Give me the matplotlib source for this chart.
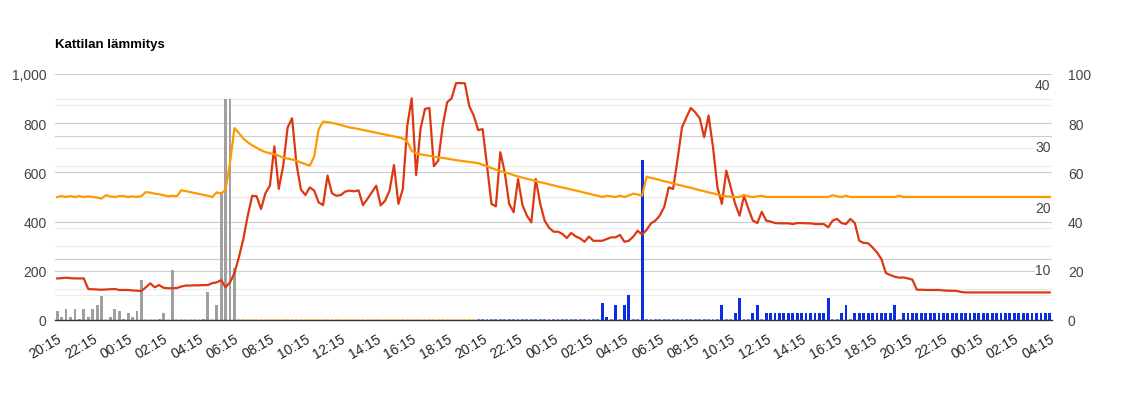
import numpy as np
import matplotlib
matplotlib.use('Agg')
import matplotlib.pyplot as plt
import matplotlib.transforms as mtransforms

plt.rcParams['font.family'] = ['Liberation Sans', 'DejaVu Sans']

TITLE = 'Kattilan lämmitys'

# x axis: one category every 15 minutes, a label every 2 hours
TICK_LABELS = ['20:15', '22:15', '00:15', '02:15', '04:15', '06:15', '08:15',
               '10:15', '12:15', '14:15', '16:15', '18:15',
               '20:15', '22:15', '00:15', '02:15', '04:15', '06:15', '08:15',
               '10:15', '12:15', '14:15', '16:15', '18:15',
               '20:15', '22:15', '00:15', '02:15', '04:15']
TICK_EVERY = 8

# bars (left axis 0..1000), three series one after another
GRAY_BARS = [35, 12, 45, 12, 45, 4, 45, 12, 45, 60, 96, 0, 12, 45, 35,
             3, 27, 12, 35, 163, 0, 0, 0, 3, 27, 0, 203, 0, 0, 0,
             0, 0, 0, 5, 112, 0, 60, 520, 900, 900, 213, 0, 0]
ORANGE_BARS = [0] * 52
BLUE_BARS = ([0] * 28
             + [68, 11, 0, 60, 0, 60, 100, 0, 0, 650]
             + [0] * 17
             + [60, 0, 0, 27, 88, 0, 0, 27, 60, 0]
             + [27] * 14
             + [88, 0, 0, 27, 60, 0]
             + [27] * 9
             + [60, 0]
             + [27] * 34)

# red line (right axis 0..100)
BOILER = [16.9, 17.0, 17.2, 17.0, 16.9, 16.9, 16.9, 12.6, 12.5, 12.4,
          12.3, 12.4, 12.5, 12.6, 12.2, 12.2, 12.2, 12.0, 11.9, 11.8,
          13.3, 14.9, 13.3, 14.2, 13.1, 12.9, 12.9, 13.0, 13.6, 14.0,
          14.0, 14.1, 14.1, 14.2, 14.2, 15.0, 15.3, 16.2, 13.3, 15.3,
          19.1, 25.5, 32.9, 42.4, 50.5, 50.3, 45.1, 51.6, 54.6, 70.6,
          53.3, 62.7, 78.3, 82.0, 63.4, 53.0, 50.8, 53.9, 52.6, 47.8,
          46.7, 58.7, 51.5, 50.5, 50.8, 52.2, 52.6, 52.3, 52.7, 46.7,
          49.2, 51.9, 54.6, 46.6, 48.5, 52.6, 63.0, 47.2, 53.3, 79.0,
          90.1, 58.9, 77.9, 85.8, 86.2, 62.5, 64.8, 79.0, 88.5, 90.1,
          96.3, 96.3, 96.2, 86.9, 83.1, 77.2, 77.6, 62.7, 47.2, 46.2,
          68.2, 60.0, 47.2, 43.8, 57.3, 46.7, 42.4, 39.7, 57.3, 47.2,
          40.4, 37.5, 35.9, 35.9, 35.0, 33.3, 35.4, 34.0, 33.2, 31.8,
          33.9, 32.2, 32.2, 32.2, 32.9, 33.6, 33.6, 34.6, 31.8, 32.2,
          33.9, 36.3, 34.7, 36.6, 39.3, 40.4, 42.5, 46.0, 53.9, 53.3,
          65.4, 78.3, 82.4, 86.2, 84.4, 82.0, 74.3, 83.1, 70.2, 53.9,
          47.2, 60.7, 53.9, 47.2, 42.4, 50.5, 45.1, 40.4, 39.4, 44.0,
          40.4, 40.0, 39.4, 39.3, 39.3, 39.3, 39.0, 39.4, 39.4, 39.3,
          39.3, 39.0, 39.0, 39.0, 37.7, 40.4, 41.1, 39.4, 39.0, 41.1,
          39.4, 32.2, 31.3, 31.2, 29.5, 27.5, 24.8, 19.1, 18.3, 17.6,
          17.2, 17.3, 16.9, 16.4, 12.3, 12.3, 12.2, 12.2, 12.2, 12.2,
          12.0, 11.9, 11.9, 11.8, 11.4] + [11.2] * 20

# orange line (inner right axis 0..40)
ROOM = [20.0, 20.15, 20.0, 20.15, 20.0, 20.15, 20.0, 20.1, 20.0, 19.9,
        19.75, 20.3, 20.1, 20.0, 20.15, 20.15, 20.0, 20.1, 20.0, 20.15,
        20.8, 20.7, 20.55, 20.45, 20.3, 20.1, 20.2, 20.1, 21.1, 20.95,
        20.8, 20.65, 20.5, 20.35, 20.2, 20.0, 20.75, 20.55, 21.2, 25.6,
        31.2, 30.4, 29.5, 28.9, 28.4, 28.0, 27.6, 27.3, 27.1, 26.95,
        26.7, 26.4, 26.25, 26.1, 25.9, 25.6, 25.35, 25.1, 26.6, 31.0,
        32.25, 32.2, 32.05, 31.9, 31.7, 31.5, 31.3, 31.2, 31.05, 30.9,
        30.75, 30.6, 30.45, 30.3, 30.15, 30.0, 29.85, 29.7, 29.5, 29.0,
        27.5, 27.1, 26.95, 26.8, 26.7, 26.55, 26.45, 26.35, 26.25, 26.1,
        26.0, 25.9, 25.8, 25.7, 25.6, 25.5, 25.25, 25.0, 24.7, 24.45,
        24.2, 24.0, 23.8, 23.55, 23.35, 23.15, 22.95, 22.8, 22.6, 22.4,
        22.25, 22.05, 21.9, 21.7, 21.55, 21.4, 21.2, 21.05, 20.9, 20.7,
        20.55, 20.35, 20.2, 20.0, 20.2, 20.1, 20.0, 20.2, 20.0, 20.25,
        20.55, 20.4, 20.2, 23.3, 23.1, 22.95, 22.75, 22.55, 22.4, 22.2,
        22.0, 21.85, 21.65, 21.5, 21.3, 21.1, 20.95, 20.75, 20.6, 20.4,
        20.2, 20.1, 20.05, 20.0, 20.0, 20.35, 20.1, 20.0, 20.1, 20.2] \
    + [20.0] * 15 + [20.3, 20.1, 20.0, 20.2, 20.0] \
    + [20.0] * 10 + [20.2] + [20.0] * 9 + [20.0] * 25

LEFT_TICKS = [0, 200, 400, 600, 800, 1000]
RIGHT_TICKS = [0, 20, 40, 60, 80, 100]
INNER_TICKS = [10, 20, 30, 40]

n = len(BOILER)
assert len(ROOM) == n
assert len(GRAY_BARS) + len(ORANGE_BARS) + len(BLUE_BARS) == n

fig = plt.figure(figsize=(11.31, 4.10), dpi=100)
ax = fig.add_axes([55 / 1131, 1 - 321 / 410, 997 / 1131, 246 / 410])
ax2 = ax.twinx()
ax3 = ax.twinx()

x = np.arange(n)
ax.set_xlim(-0.5, n - 0.5)
ax.set_ylim(0, 1000)
ax2.set_ylim(0, 100)
ax3.set_ylim(0, 40)

# gridlines: left axis and inner axis
ax.set_yticks(LEFT_TICKS)
ax.set_yticks(np.arange(100, 1000, 200), minor=True)
ax.grid(which='major', axis='y', color='#cccccc', lw=0.8, zorder=0)
ax.grid(which='minor', axis='y', color='#ebebeb', lw=0.8, zorder=0)
ax.set_axisbelow(True)
inner_tf = mtransforms.blended_transform_factory(ax.transAxes, ax3.transData)
for v in np.arange(5, 40, 5):
    ax.plot([0, 1], [v, v], transform=inner_tf,
            color='#cccccc' if v % 10 == 0 else '#ebebeb', lw=0.8, zorder=0.5)

# bars
bar_w = 0.64
stub = 5
start = 0
for vals, col, stub_col in [(GRAY_BARS, '#a0a0a0', '#b8b8b8'),
                            (ORANGE_BARS, '#ff9900', '#f5b54a'),
                            (BLUE_BARS, '#0b2fe0', '#5f7fea')]:
    vals = np.array(vals, dtype=float)
    xs = x[start:start + len(vals)]
    ax.bar(xs, vals, width=bar_w, color=col, zorder=2, linewidth=0)
    z = vals == 0
    ax.bar(xs[z], np.full(z.sum(), stub), width=bar_w, color=stub_col,
           zorder=4, linewidth=0)
    start += len(vals)

# lines
ax2.plot(x, BOILER, color='#dc3912', lw=1.6, solid_joinstyle='round')
ax3.plot(x, ROOM, color='#ff9900', lw=1.6, solid_joinstyle='round')

# axes styling
for a in (ax, ax2, ax3):
    for s in ('left', 'right', 'top', 'bottom'):
        a.spines[s].set_visible(False)
ax.spines['bottom'].set_visible(True)
ax.spines['bottom'].set_color('#333333')
ax.spines['bottom'].set_linewidth(1.0)
ax.spines['bottom'].set_zorder(3)

ax.tick_params(axis='y', which='both', length=0, pad=6, labelsize=10,
               labelcolor='#444444')
ax.set_yticklabels([f'{v:,}' for v in LEFT_TICKS])

ax2.set_yticks(RIGHT_TICKS)
ax2.tick_params(axis='y', length=0, pad=11.5, labelsize=10, labelcolor='#444444')

ax3.set_yticks([])
for v in INNER_TICKS:
    ax3.annotate(str(v), xy=(1, v), xycoords=ax3.get_yaxis_transform(),
                 xytext=(-1, -8), textcoords='offset points',
                 ha='right', va='center', fontsize=10, color='#444444',
                 bbox=dict(facecolor='white', edgecolor='none', pad=0.5))

ax.set_xticks(x[::TICK_EVERY])
ax.set_xticklabels(TICK_LABELS, rotation=30, ha='right', va='top',
                   rotation_mode='anchor')
ax.tick_params(axis='x', length=0, pad=8, labelsize=10, labelcolor='#222222')

fig.text(55 / 1131, 1 - 45 / 410, TITLE, fontsize=9.5, fontweight='bold',
         va='center', ha='left', color='#000000')

fig.savefig('out.png', dpi=100)
